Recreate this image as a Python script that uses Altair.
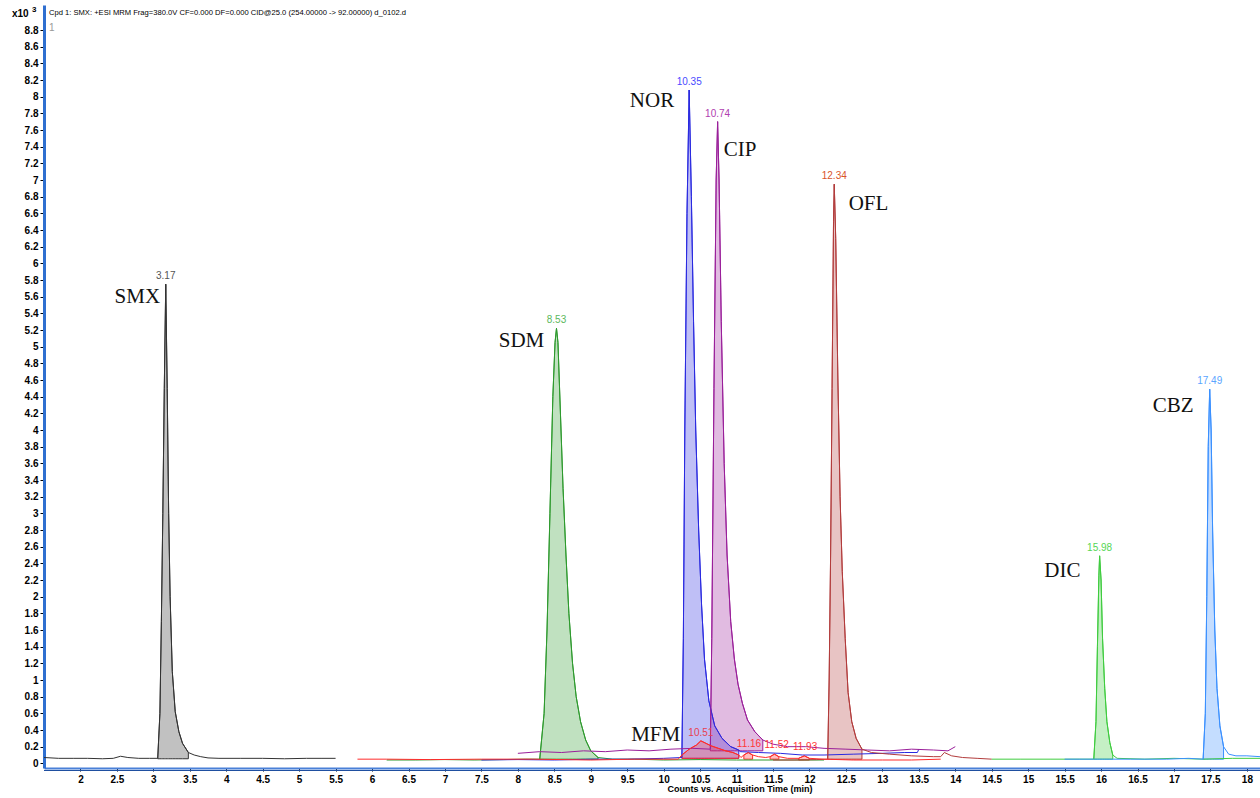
import altair as alt
import pandas as pd

W, H = 1216, 763
X_DOMAIN = [1.5, 18.18]
Y_DOMAIN = [-0.056, 9.1]

compounds = ["SMX", "SDM", "NOR", "CIP", "OFL", "MFM", "DIC", "CBZ"]
line_colors = ["#333333", "#2e9a2e", "#2a2ae0", "#9a1f9a", "#b23c3c", "#ff2b2b", "#3fcc3f", "#3a90ff"]

# (time min, counts x10^3)
smx = [(1.50, 0.07), (1.70, 0.06), (1.90, 0.06), (2.10, 0.06), (2.30, 0.055), (2.45, 0.06), (2.55, 0.085),
       (2.65, 0.07), (2.80, 0.06), (2.95, 0.06), (3.06, 0.06), (3.09, 0.6), (3.11, 1.7), (3.13, 3.0),
       (3.15, 4.5), (3.17, 5.75), (3.19, 4.5), (3.21, 3.0), (3.23, 2.0), (3.26, 1.1), (3.30, 0.62),
       (3.35, 0.38), (3.40, 0.24), (3.48, 0.13), (3.56, 0.1), (3.65, 0.08), (3.75, 0.065), (3.90, 0.06),
       (4.20, 0.06), (4.50, 0.06), (4.80, 0.055), (5.10, 0.06), (5.30, 0.06), (5.50, 0.06)]
sdm = [(6.20, 0.04), (6.60, 0.04), (7.00, 0.045), (7.40, 0.04), (7.80, 0.045), (8.10, 0.05), (8.30, 0.05),
       (8.36, 0.6), (8.40, 1.6), (8.44, 3.0), (8.48, 4.4), (8.51, 5.05), (8.53, 5.22), (8.55, 5.05),
       (8.58, 4.3), (8.62, 3.3), (8.66, 2.5), (8.70, 1.8), (8.75, 1.2), (8.80, 0.8), (8.86, 0.5),
       (8.93, 0.28), (9.00, 0.15), (9.10, 0.07), (9.30, 0.05), (9.60, 0.05), (10.00, 0.04), (10.50, 0.045),
       (11.00, 0.04), (11.50, 0.04), (12.20, 0.04)]
nor = [(7.50, 0.04), (8.00, 0.045), (8.50, 0.04), (9.00, 0.05), (9.50, 0.05), (10.00, 0.06), (10.25, 0.07),
       (10.27, 1.5), (10.29, 4.0), (10.32, 6.6), (10.35, 8.08), (10.38, 6.8), (10.41, 5.3), (10.44, 4.0),
       (10.48, 2.8), (10.52, 1.9), (10.56, 1.25), (10.62, 0.75), (10.70, 0.45), (10.80, 0.3), (10.92, 0.2),
       (11.03, 0.16), (11.05, 0.14), (11.30, 0.13), (11.60, 0.12), (11.90, 0.1), (12.20, 0.1), (12.60, 0.11),
       (13.00, 0.12), (13.30, 0.13), (13.48, 0.13), (13.50, 0.17)]
cip = [(8.00, 0.12), (8.30, 0.14), (8.60, 0.13), (8.90, 0.15), (9.20, 0.14), (9.50, 0.16), (9.80, 0.15),
       (10.10, 0.17), (10.40, 0.18), (10.64, 0.17), (10.66, 1.5), (10.69, 4.5), (10.72, 7.0), (10.74, 7.70),
       (10.76, 7.0), (10.79, 5.3), (10.83, 3.6), (10.87, 2.5), (10.92, 1.7), (10.97, 1.25), (11.02, 0.95),
       (11.08, 0.72), (11.15, 0.52), (11.25, 0.38), (11.36, 0.28), (11.50, 0.23), (11.70, 0.2), (11.95, 0.2),
       (12.20, 0.18), (12.50, 0.17), (12.80, 0.16), (13.10, 0.15), (13.40, 0.17), (13.70, 0.16),
       (13.90, 0.15), (14.00, 0.2)]
ofl = [(11.50, 0.04), (11.80, 0.04), (12.10, 0.045), (12.25, 0.05), (12.27, 1.0), (12.29, 2.5), (12.31, 4.5),
       (12.33, 6.5), (12.34, 6.95), (12.36, 6.3), (12.39, 4.6), (12.42, 3.2), (12.45, 2.3), (12.49, 1.5),
       (12.53, 0.85), (12.58, 0.5), (12.64, 0.3), (12.72, 0.17), (12.85, 0.13), (13.10, 0.11), (13.40, 0.09),
       (13.70, 0.08), (13.80, 0.08), (13.85, 0.13), (13.95, 0.09), (14.10, 0.07), (14.30, 0.06), (14.50, 0.05)]
mfm = [(5.80, 0.05), (6.20, 0.05), (6.80, 0.045), (7.50, 0.05), (8.20, 0.05), (9.00, 0.04), (9.60, 0.05),
       (10.20, 0.05), (10.25, 0.1), (10.35, 0.17), (10.45, 0.22), (10.51, 0.27), (10.58, 0.24), (10.65, 0.21),
       (10.75, 0.18), (10.85, 0.15), (10.95, 0.13), (11.03, 0.1), (11.06, 0.07), (11.10, 0.1), (11.16, 0.13),
       (11.22, 0.1), (11.30, 0.08), (11.40, 0.07), (11.46, 0.08), (11.52, 0.11), (11.58, 0.08), (11.70, 0.06),
       (11.85, 0.06), (11.93, 0.09), (12.00, 0.06), (12.20, 0.05), (12.60, 0.04), (13.00, 0.04),
       (13.40, 0.04), (13.80, 0.05)]
dic = [(14.50, 0.05), (14.90, 0.05), (15.30, 0.05), (15.70, 0.05), (15.90, 0.05), (15.93, 0.5), (15.95, 1.4),
       (15.97, 2.25), (15.98, 2.49), (16.00, 2.2), (16.02, 1.5), (16.05, 0.9), (16.08, 0.5), (16.12, 0.25),
       (16.16, 0.1), (16.22, 0.06), (16.60, 0.05), (17.00, 0.06), (17.40, 0.05), (17.80, 0.06), (18.18, 0.06)]
cbz = [(15.50, 0.05), (15.90, 0.05), (16.40, 0.05), (16.90, 0.05), (17.20, 0.06), (17.40, 0.05), (17.43, 0.6),
       (17.45, 2.0), (17.47, 3.8), (17.49, 4.49), (17.51, 4.0), (17.53, 2.8), (17.56, 1.6), (17.59, 0.9),
       (17.63, 0.45), (17.68, 0.2), (17.75, 0.11), (17.85, 0.09), (18.00, 0.09), (18.18, 0.08)]

# integration regions: compound, start, end, baseline
fill_spans = [("SMX", 3.06, 3.48, 0.055), ("SDM", 8.30, 9.10, 0.05), ("NOR", 10.25, 11.03, 0.06),
              ("CIP", 10.64, 11.36, 0.15), ("OFL", 12.25, 12.72, 0.05), ("MFM", 10.25, 11.03, 0.06),
              ("MFM", 11.10, 11.22, 0.05), ("MFM", 11.46, 11.58, 0.05), ("MFM", 11.85, 12.00, 0.04),
              ("DIC", 15.90, 16.16, 0.05), ("CBZ", 17.40, 17.68, 0.05)]

peak_text = ["3.17", "8.53", "10.35", "10.74", "12.34", "15.98", "17.49", "10.51", "11.16", "11.52", "11.93"]
peak_t = [3.17, 8.53, 10.35, 10.74, 12.34, 15.98, 17.49, 10.51, 11.17, 11.55, 11.94]
peak_y = [5.75, 5.22, 8.08, 7.70, 6.95, 2.49, 4.49, 0.27, 0.14, 0.12, 0.10]
peak_color = ["#555555", "#5cb85c", "#4a4aff", "#b040b0", "#d9542a", "#55d655", "#5aa5ff",
              "#e84050", "#ff3535", "#ff3535", "#ff3535"]

label_text = ["SMX", "SDM", "NOR", "CIP", "OFL", "MFM", "DIC", "CBZ"]
label_t = [2.78, 8.05, 9.84, 11.05, 12.81, 9.89, 15.47, 16.99]
label_y = [5.60, 5.07, 7.95, 7.36, 6.71, 0.34, 2.31, 4.29]

x_ticks = [i / 2 for i in range(4, 37)]
y_ticks = [round(i * 0.2, 1) for i in range(45)]

traces = {"SMX": smx, "SDM": sdm, "NOR": nor, "CIP": cip, "OFL": ofl, "MFM": mfm, "DIC": dic, "CBZ": cbz}
rows = []
for name, pts in traces.items():
    for t, y in pts:
        rows.append({"compound": name, "t": t, "y": y})
trace_df = pd.DataFrame(rows)

fill_rows = []
for i, (name, start, end, base) in enumerate(fill_spans):
    for t, y in traces[name]:
        if start - 1e-9 <= t <= end + 1e-9:
            fill_rows.append({"compound": name, "seg": i, "t": t, "y": y, "base": base})
fill_df = pd.DataFrame(fill_rows)

peak_df = pd.DataFrame({"text": peak_text, "t": peak_t, "y": peak_y, "color": peak_color})
label_df = pd.DataFrame({"text": label_text, "t": label_t, "y": label_y})
dummy = pd.DataFrame({"a": [0]})

AX_FONT = "Liberation Sans"
x_enc = alt.X("t:Q", scale=alt.Scale(domain=X_DOMAIN, nice=False, zero=False),
              axis=alt.Axis(values=x_ticks, format=".1~f", labelFont=AX_FONT, labelFontSize=10,
                            labelFontWeight="bold", labelColor="#000000", tickColor="#000000", tickSize=3,
                            domainColor="#4a80d8", domainWidth=2, grid=False, title=None, labelPadding=3,
                            labelOverlap=False, labelFlush=False))
y_enc = alt.Y("y:Q", scale=alt.Scale(domain=Y_DOMAIN, nice=False, zero=False),
              axis=alt.Axis(values=y_ticks, format=".1~f", labelFont=AX_FONT, labelFontSize=10,
                            labelFontWeight="bold", labelColor="#000000", tickColor="#000000", tickSize=4,
                            domainColor="#2f6fd0", domainWidth=3, grid=False, title=None, labelPadding=2,
                            labelOverlap=False, labelFlush=False))
cscale = alt.Scale(domain=compounds, range=line_colors)

areas = alt.Chart(fill_df).mark_area(fillOpacity=0.3, strokeWidth=1).encode(
    x=x_enc, y=y_enc, y2="base:Q",
    fill=alt.Fill("compound:N", scale=cscale, legend=None),
    stroke=alt.Stroke("compound:N", scale=cscale, legend=None),
    detail="seg:N",
)
lines = alt.Chart(trace_df).mark_line(strokeWidth=1).encode(
    x=x_enc, y=y_enc,
    color=alt.Color("compound:N", scale=cscale, legend=None),
    detail="compound:N",
)
peaks = alt.Chart(peak_df).mark_text(font=AX_FONT, fontSize=10, baseline="middle", dy=-8).encode(
    x=x_enc, y=y_enc, text="text:N", color=alt.Color("color:N", scale=None),
)
labels = alt.Chart(label_df).mark_text(font="Liberation Serif", fontSize=21, baseline="middle",
                                       color="#111111").encode(x=x_enc, y=y_enc, text="text:N")

header = alt.Chart(dummy).mark_text(align="left", baseline="middle", font=AX_FONT, fontSize=7.6,
                                    color="#000000").encode(
    x=alt.value(5), y=alt.value(8),
    text=alt.value("Cpd 1: SMX: +ESI MRM Frag=380.0V CF=0.000 DF=0.000 CID@25.0 (254.00000 -> 92.00000) d_0102.d"))
x10 = alt.Chart(dummy).mark_text(align="left", baseline="middle", font=AX_FONT, fontSize=10,
                                 fontWeight="bold", color="#000000").encode(
    x=alt.value(-32), y=alt.value(9), text=alt.value("x10"))
x10_exp = alt.Chart(dummy).mark_text(align="left", baseline="middle", font=AX_FONT, fontSize=8,
                                     fontWeight="bold", color="#000000").encode(
    x=alt.value(-12), y=alt.value(5), text=alt.value("3"))
one = alt.Chart(dummy).mark_text(align="left", baseline="middle", font=AX_FONT, fontSize=10,
                                 color="#999999").encode(x=alt.value(5), y=alt.value(23), text=alt.value("1"))
xtitle = alt.Chart(dummy).mark_text(align="center", baseline="middle", font=AX_FONT, fontSize=9,
                                    fontWeight="bold", color="#000000").encode(
    x=alt.value(696), y=alt.value(784), text=alt.value("Counts vs. Acquisition Time (min)"))
bottom_rule = alt.Chart(dummy).mark_rule(color="#1f4fa0", strokeWidth=1).encode(
    x=alt.value(0), x2=alt.value(W), y=alt.value(H + 2.5))

chart = alt.layer(areas, lines, peaks, labels, header, x10, x10_exp, one, xtitle, bottom_rule).properties(
    width=W, height=H,
    autosize=alt.AutoSizeParams(type="none"),
    padding={"left": 44, "top": 5, "right": 0, "bottom": 30},
    background="#ffffff",
).configure_view(stroke=None)

chart.save("out.html", embed_options={"renderer": "svg", "actions": False})
